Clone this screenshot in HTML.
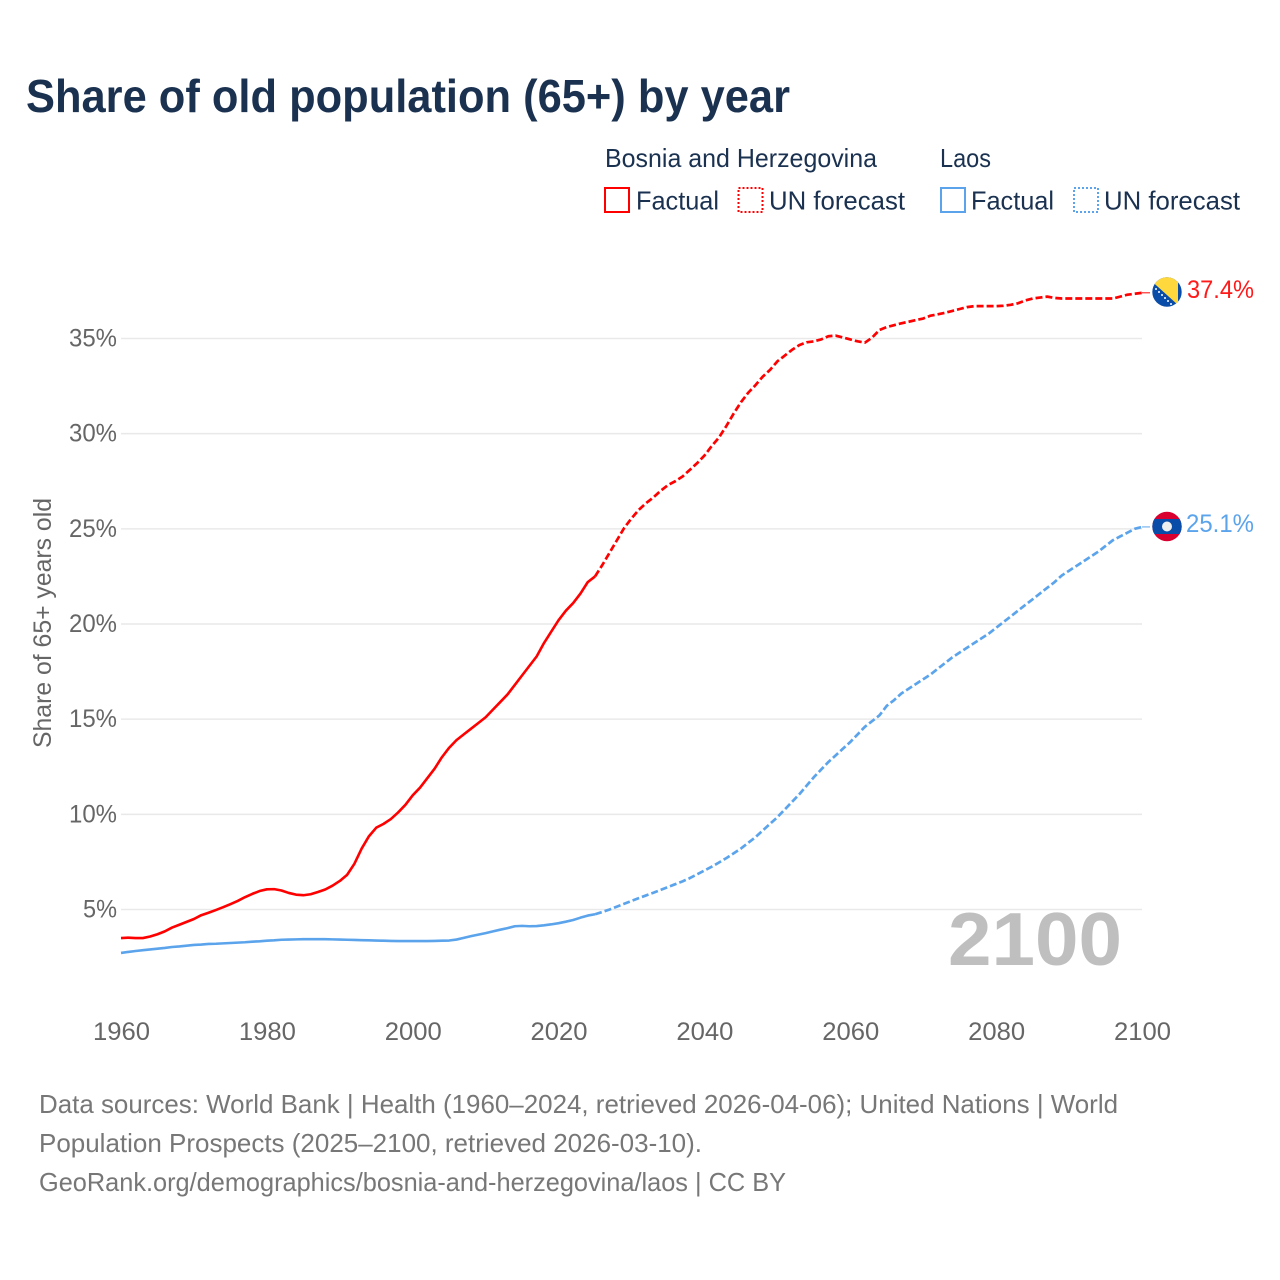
<!DOCTYPE html>
<html lang="en">
<head>
<meta charset="utf-8">
<title>Share of old population (65+) by year</title>
<style>
html,body{margin:0;padding:0;background:#fff;}
svg{display:block;font-family:"Liberation Sans",sans-serif;}
</style>
</head>
<body>
<svg id="chart" xmlns="http://www.w3.org/2000/svg" width="1280" height="1280" viewBox="0 0 1280 1280">
  <rect x="0" y="0" width="1280" height="1280" fill="#ffffff"/>
  <text x="26" y="112" font-size="46" font-weight="700" fill="#1a3150" textLength="764" lengthAdjust="spacingAndGlyphs">Share of old population (65+) by year</text>

  <g font-size="26" fill="#1a3150">
    <text x="605" y="167" textLength="272" lengthAdjust="spacingAndGlyphs">Bosnia and Herzegovina</text>
    <text x="940" y="167" textLength="51" lengthAdjust="spacingAndGlyphs">Laos</text>
    <rect x="605" y="188" width="24" height="24" fill="none" stroke="#ff0000" stroke-width="2"/>
    <text x="636" y="209.5" textLength="83" lengthAdjust="spacingAndGlyphs">Factual</text>
    <rect x="738.5" y="188" width="24" height="24" fill="none" stroke="#ff0000" stroke-width="2" stroke-dasharray="2 2"/>
    <text x="769" y="209.5" textLength="136" lengthAdjust="spacingAndGlyphs">UN forecast</text>
    <rect x="941" y="188" width="24" height="24" fill="none" stroke="#5ba4ec" stroke-width="2"/>
    <text x="971" y="209.5" textLength="83" lengthAdjust="spacingAndGlyphs">Factual</text>
    <rect x="1074" y="188" width="24" height="24" fill="none" stroke="#5ba4ec" stroke-width="2" stroke-dasharray="2 2"/>
    <text x="1104" y="209.5" textLength="136" lengthAdjust="spacingAndGlyphs">UN forecast</text>
  </g>

  <g id="grid"></g>
  <g id="yticks" font-size="25" fill="#666666"></g>
  <g id="xticks" font-size="25" fill="#666666"></g>
  <text transform="translate(51,748) rotate(-90)" x="0" y="0" font-size="25" fill="#666666" textLength="250" lengthAdjust="spacingAndGlyphs">Share of 65+ years old</text>

  <text x="948" y="965" font-size="75" font-weight="700" fill="#bfbfbf" textLength="174" lengthAdjust="spacingAndGlyphs">2100</text>

  <g id="series"></g>

  <g>
    <clipPath id="clipBa"><circle cx="1167" cy="292" r="14.7"/></clipPath>
    <g clip-path="url(#clipBa)">
      <rect x="1150" y="275" width="34" height="34" fill="#0a4da8"/>
      <polygon points="1147,277 1178,277 1178,305" fill="#ffd83d"/>
      <g fill="#ffffff">
        <circle cx="1156" cy="289" r="1"/>
        <circle cx="1159" cy="292" r="1"/>
        <circle cx="1162" cy="295" r="1"/>
        <circle cx="1165" cy="298" r="1"/>
        <circle cx="1168" cy="301" r="1"/>
        <circle cx="1171" cy="304" r="1"/>
      </g>
    </g>
  </g>
  <text x="1187" y="298" font-size="25" fill="#ff1a1a" textLength="67" lengthAdjust="spacingAndGlyphs">37.4%</text>

  <g>
    <clipPath id="clipLa"><circle cx="1167" cy="526.5" r="14.7"/></clipPath>
    <g clip-path="url(#clipLa)">
      <rect x="1150" y="510" width="34" height="34" fill="#d9002f"/>
      <rect x="1150" y="519" width="34" height="15" fill="#0a4da8"/>
      <circle cx="1167" cy="526.5" r="5" fill="#eeeeee"/>
    </g>
  </g>
  <text x="1186" y="532" font-size="25" fill="#5ba4ec" textLength="68" lengthAdjust="spacingAndGlyphs">25.1%</text>

  <g font-size="26" fill="#777777">
    <text x="39" y="1113" textLength="1079" lengthAdjust="spacingAndGlyphs">Data sources: World Bank | Health (1960–2024, retrieved 2026-04-06); United Nations | World</text>
    <text x="39" y="1152" textLength="663" lengthAdjust="spacingAndGlyphs">Population Prospects (2025–2100, retrieved 2026-03-10).</text>
    <text x="39" y="1191" textLength="747" lengthAdjust="spacingAndGlyphs">GeoRank.org/demographics/bosnia-and-herzegovina/laos | CC BY</text>
  </g>
</svg>

<script>
const startYear = 1960;
const lastFactualYear = 2025;
const yTickValues = [5, 10, 15, 20, 25, 30, 35];
const yTickLabels = ["5%", "10%", "15%", "20%", "25%", "30%", "35%"];
const xTickValues = [1960, 1980, 2000, 2020, 2040, 2060, 2080, 2100];
const xTickLabels = ["1960", "1980", "2000", "2020", "2040", "2060", "2080", "2100"];

const bosniaValues = [
  3.5,3.52,3.5,3.5,3.58,3.7,3.85,4.05,4.2,4.35,
  4.5,4.7,4.83,4.97,5.12,5.28,5.45,5.65,5.82,5.97,
  6.06,6.07,6.0,5.87,5.78,5.75,5.8,5.92,6.05,6.25,
  6.5,6.82,7.4,8.2,8.85,9.3,9.5,9.75,10.1,10.5,
  11.0,11.4,11.9,12.4,13.0,13.5,13.9,14.2,14.5,14.8,
  15.1,15.5,15.9,16.3,16.8,17.3,17.8,18.3,19.0,19.6,
  20.2,20.7,21.1,21.6,22.2,22.5,
  23.1,23.75,24.4,25.05,25.55,26.0,26.35,26.65,27.0,27.3,
  27.5,27.75,28.1,28.45,28.85,29.35,29.8,30.4,31.05,31.65,
  32.15,32.55,33.0,33.35,33.8,34.1,34.4,34.65,34.8,34.85,
  34.95,35.12,35.15,35.05,34.95,34.85,34.78,35.05,35.45,35.6,
  35.7,35.8,35.88,35.97,36.05,36.2,36.27,36.35,36.45,36.55,
  36.65,36.7,36.7,36.7,36.7,36.72,36.77,36.85,37.0,37.1,
  37.15,37.2,37.13,37.1,37.1,37.1,37.1,37.1,37.1,37.1,
  37.1,37.2,37.3,37.35,37.4
];

const laosValues = [
  2.72,2.77,2.82,2.86,2.9,2.94,2.98,3.03,3.06,3.1,
  3.14,3.16,3.19,3.2,3.22,3.24,3.26,3.28,3.31,3.33,
  3.36,3.38,3.41,3.42,3.43,3.44,3.44,3.44,3.44,3.43,
  3.42,3.41,3.4,3.39,3.38,3.37,3.36,3.35,3.34,3.34,
  3.34,3.34,3.34,3.35,3.36,3.37,3.42,3.51,3.6,3.68,
  3.76,3.85,3.94,4.02,4.12,4.14,4.12,4.13,4.17,4.22,
  4.28,4.36,4.45,4.57,4.68,4.75,
  4.87,5.0,5.15,5.3,5.45,5.6,5.74,5.88,6.03,6.18,
  6.33,6.48,6.65,6.85,7.05,7.25,7.47,7.7,7.95,8.2,
  8.5,8.8,9.15,9.5,9.85,10.25,10.65,11.05,11.5,11.95,
  12.35,12.75,13.1,13.45,13.8,14.2,14.6,14.9,15.2,15.7,
  16.0,16.35,16.6,16.85,17.1,17.35,17.65,17.95,18.25,18.5,
  18.75,19.0,19.25,19.5,19.8,20.1,20.4,20.7,21.0,21.3,
  21.6,21.9,22.2,22.55,22.8,23.05,23.3,23.55,23.8,24.1,
  24.4,24.6,24.8,25.0,25.1
];

const NS = 'http://www.w3.org/2000/svg';
function xScale(year) { return 121 + (year - 1960) * (1142 - 121) / 140; }
function yScale(v) { return 909.5 - (v - 5) * (909.5 - 338.5) / 30; }

function pathFor(values, fromYear, toYear) {
  let d = '';
  for (let y = fromYear; y <= toYear; y++) {
    const v = values[y - startYear];
    d += (d ? 'L' : 'M') + xScale(y).toFixed(2) + ' ' + yScale(v).toFixed(2);
  }
  return d;
}

const gridGroup = document.getElementById('grid');
const yTickGroup = document.getElementById('yticks');
yTickValues.forEach(function (v, i) {
  const line = document.createElementNS(NS, 'line');
  
  
  line.setAttribute('x1', 121);
  line.setAttribute('x2', 1142);
  line.setAttribute('y1', yScale(v));
  line.setAttribute('y2', yScale(v));
  line.setAttribute('stroke', '#e9e9e9');
  line.setAttribute('stroke-width', '1.5');
  gridGroup.appendChild(line);

  const t = document.createElementNS(NS, 'text');
  
  
  const w = yTickLabels[i].length === 2 ? 34 : 48;
  t.setAttribute('x', 117 - w);
  t.setAttribute('y', yScale(v) + 8);
  t.setAttribute('textLength', w);
  t.setAttribute('lengthAdjust', 'spacingAndGlyphs');
  t.textContent = yTickLabels[i];
  yTickGroup.appendChild(t);
});

const xTickGroup = document.getElementById('xticks');
xTickValues.forEach(function (yr, i) {
  const t = document.createElementNS(NS, 'text');
  
  
  t.setAttribute('x', xScale(yr) - 28);
  t.setAttribute('y', 1040);
  t.setAttribute('textLength', 57);
  t.setAttribute('lengthAdjust', 'spacingAndGlyphs');
  t.textContent = xTickLabels[i];
  xTickGroup.appendChild(t);
});

const seriesGroup = document.getElementById('series');
const endYear = startYear + bosniaValues.length - 1;

const bosniaFactual = document.createElementNS(NS, 'path');


bosniaFactual.setAttribute('d', pathFor(bosniaValues, startYear, lastFactualYear));
bosniaFactual.setAttribute('fill', 'none');
bosniaFactual.setAttribute('stroke', '#ff0000');
bosniaFactual.setAttribute('stroke-width', '2.6');
bosniaFactual.setAttribute('stroke-linejoin', 'round');
seriesGroup.appendChild(bosniaFactual);

const bosniaForecast = document.createElementNS(NS, 'path');


bosniaForecast.setAttribute('d', pathFor(bosniaValues, lastFactualYear, endYear));
bosniaForecast.setAttribute('fill', 'none');
bosniaForecast.setAttribute('stroke', '#ff0000');
bosniaForecast.setAttribute('stroke-width', '2.7');
bosniaForecast.setAttribute('stroke-dasharray', '7 3');
bosniaForecast.setAttribute('stroke-linejoin', 'round');
seriesGroup.appendChild(bosniaForecast);

const laosFactual = document.createElementNS(NS, 'path');


laosFactual.setAttribute('d', pathFor(laosValues, startYear, lastFactualYear));
laosFactual.setAttribute('fill', 'none');
laosFactual.setAttribute('stroke', '#5ba4ec');
laosFactual.setAttribute('stroke-width', '2.6');
laosFactual.setAttribute('stroke-linejoin', 'round');
seriesGroup.appendChild(laosFactual);

const laosForecast = document.createElementNS(NS, 'path');


laosForecast.setAttribute('d', pathFor(laosValues, lastFactualYear, endYear));
laosForecast.setAttribute('fill', 'none');
laosForecast.setAttribute('stroke', '#5ba4ec');
laosForecast.setAttribute('stroke-width', '2.7');
laosForecast.setAttribute('stroke-dasharray', '7 3');
laosForecast.setAttribute('stroke-linejoin', 'round');
seriesGroup.appendChild(laosForecast);

const bosniaLeader = document.createElementNS(NS, 'line');


bosniaLeader.setAttribute('x1', xScale(endYear));
bosniaLeader.setAttribute('x2', xScale(endYear) + 8);
bosniaLeader.setAttribute('y1', yScale(bosniaValues[bosniaValues.length - 1]));
bosniaLeader.setAttribute('y2', yScale(bosniaValues[bosniaValues.length - 1]));
bosniaLeader.setAttribute('stroke', '#ff0000');
bosniaLeader.setAttribute('stroke-width', '1');
seriesGroup.appendChild(bosniaLeader);

const laosLeader = document.createElementNS(NS, 'line');


laosLeader.setAttribute('x1', xScale(endYear));
laosLeader.setAttribute('x2', xScale(endYear) + 8);
laosLeader.setAttribute('y1', yScale(laosValues[laosValues.length - 1]));
laosLeader.setAttribute('y2', yScale(laosValues[laosValues.length - 1]));
laosLeader.setAttribute('stroke', '#5ba4ec');
laosLeader.setAttribute('stroke-width', '1');
seriesGroup.appendChild(laosLeader);
</script>
</body>
</html>
